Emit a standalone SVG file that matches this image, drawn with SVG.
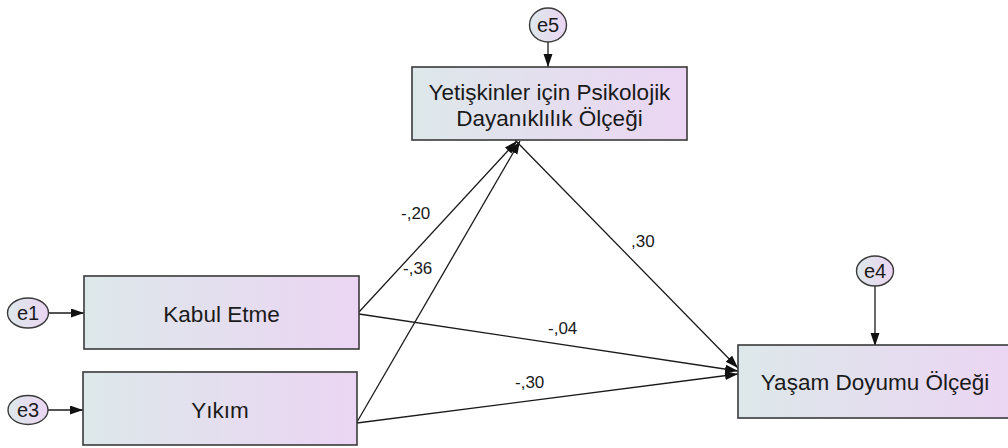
<svg xmlns="http://www.w3.org/2000/svg" width="1008" height="448" viewBox="0 0 1008 448">
<defs>
<linearGradient id="g" x1="0" y1="0" x2="1" y2="0">
<stop offset="0" stop-color="#dde8ea"/>
<stop offset="1" stop-color="#ebd5f3"/>
</linearGradient>
<marker id="ah" markerUnits="userSpaceOnUse" markerWidth="14" markerHeight="10" refX="13" refY="4.5" orient="auto">
<path d="M0,0 L13,4.5 L0,9 z" fill="#111"/>
</marker>
</defs>
<style>
.box{fill:url(#g);stroke:#3a3a3a;stroke-width:1.6}
.err{fill:url(#g);stroke:#3a3a3a;stroke-width:1.4}
.t{font-family:"Liberation Sans",Arial,sans-serif;font-size:22.5px;fill:#1a1a1a;text-anchor:middle}
.et{font-family:"Liberation Sans",Arial,sans-serif;font-size:20px;fill:#1a1a1a;text-anchor:middle}
.lbl{font-family:"Liberation Sans",Arial,sans-serif;font-size:17px;fill:#1a1a1a}
.c{stroke:#1a1a1a;stroke-width:1.3;fill:none;marker-end:url(#ah)}
</style>
<rect width="1008" height="448" fill="#ffffff"/>
<g id="connectors">
<line class="c" x1="548" y1="42" x2="548" y2="67"/>
<line class="c" x1="875" y1="286" x2="875" y2="346"/>
<line class="c" x1="49" y1="313" x2="84" y2="313"/>
<line class="c" x1="48" y1="410" x2="83" y2="410"/>
<line class="c" x1="359" y1="312" x2="517" y2="141"/>
<line class="c" x1="357" y1="422" x2="520" y2="141"/>
<line class="c" x1="515" y1="140" x2="738" y2="368"/>
<line class="c" x1="359" y1="314" x2="738" y2="371"/>
<line class="c" x1="357" y1="423" x2="738" y2="374"/>
<text class="lbl" x="401" y="219">-,20</text>
<text class="lbl" x="403" y="274">-,36</text>
<text class="lbl" x="631" y="247">,30</text>
<text class="lbl" x="548" y="334">-,04</text>
<text class="lbl" x="515" y="388">-,30</text>
</g>
<g id="e5"><ellipse class="err" cx="548" cy="25" rx="18.5" ry="17"/><text class="et" x="548" y="32">e5</text></g>
<g id="e4"><ellipse class="err" cx="875" cy="271" rx="18.5" ry="15"/><text class="et" x="875" y="278">e4</text></g>
<g id="e1"><ellipse class="err" cx="28" cy="313" rx="20.5" ry="15"/><text class="et" x="28" y="320">e1</text></g>
<g id="e3"><ellipse class="err" cx="28" cy="410" rx="20" ry="14.5"/><text class="et" x="28" y="417">e3</text></g>
<g id="psikolojik"><rect class="box" x="412" y="67" width="275" height="73"/><text class="t" x="549.5" y="99.5">Yetişkinler için Psikolojik</text><text class="t" x="549.5" y="125.5">Dayanıklılık Ölçeği</text></g>
<g id="kabul"><rect class="box" x="84" y="276" width="275" height="73"/><text class="t" x="221.5" y="321.5">Kabul Etme</text></g>
<g id="yikim"><rect class="box" x="83" y="372" width="274" height="73"/><text class="t" x="220" y="418">Yıkım</text></g>
<g id="yasam"><rect class="box" x="738" y="345" width="275" height="73"/><text class="t" x="875" y="390">Yaşam Doyumu Ölçeği</text></g>
</svg>
